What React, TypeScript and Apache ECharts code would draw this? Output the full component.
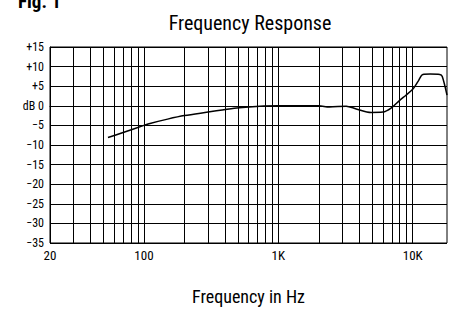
import React, { useEffect, useRef } from "react";
import * as echarts from "echarts";

const freqHz = [54, 70, 100, 111, 150, 200, 300, 470, 730, 1000, 1500, 2000, 2400, 3200, 3800, 4900, 6000, 6900, 8000, 8900, 10000, 11000, 11900, 13500, 15900, 16600, 18000];
const responseDb = [-8.1, -6.8, -5.0, -4.5, -3.4, -2.5, -1.6, -0.6, -0.1, 0, 0, 0, -0.3, -0.1, -0.8, -1.7, -1.6, -0.6, 1.4, 2.7, 4.2, 6.3, 8.0, 8.1, 8.0, 7.5, 2.7];
const gridFreqs = [30, 40, 50, 60, 70, 80, 90, 100, 200, 300, 400, 500, 600, 700, 800, 900, 1000, 2000, 3000, 4000, 5000, 6000, 7000, 8000, 9000, 10000];
const xTickLabels: Record<number, string> = { 20: "20", 100: "100", 1000: "1K", 10000: "10K" };

const FONT = "'Liberation Sans Narrow', 'Roboto Condensed', Roboto, sans-serif";

export default function App() {
  const ref = useRef<HTMLDivElement>(null);
  useEffect(() => {
    if (!ref.current) return;
    const chart = echarts.init(ref.current, undefined, { renderer: "svg" });
    chart.setOption({
      animation: false,
      backgroundColor: "#fff",
      textStyle: { fontFamily: FONT },
      title: {
        text: "Frequency Response",
        left: 245,
        textAlign: "center",
        top: 8,
        textStyle: { fontSize: 20, fontWeight: "normal", color: "#000", fontFamily: FONT },
      },
      graphic: [
        {
          type: "text",
          left: 18,
          top: -8,
          style: { text: "Fig. 1", font: "bold 19px " + FONT, fill: "#000" },
        },
      ],
      grid: { left: 50, right: 6, top: 47, bottom: 55, show: true, borderColor: "#000", borderWidth: 1 },
      xAxis: {
        type: "log",
        logBase: 10,
        min: 20,
        max: 18000,
        name: "Frequency in Hz",
        nameLocation: "middle",
        nameGap: 44,
        nameTextStyle: { fontSize: 18, color: "#000", fontFamily: FONT },
        axisLine: { show: true, lineStyle: { color: "#000", width: 1 } },
        axisTick: { show: false },
        splitLine: { show: false },
        axisLabel: {
          color: "#000",
          fontSize: 13,
          margin: 6,
          showMaxLabel: false,
          formatter: (v: number) => {
            const r = Math.round(v);
            return xTickLabels[r] ?? "";
          },
        },
      },
      yAxis: {
        type: "value",
        min: -35,
        max: 15,
        interval: 5,
        axisLine: { show: true, lineStyle: { color: "#000", width: 1 } },
        axisTick: { show: false },
        splitLine: { show: true, lineStyle: { color: "#000", width: 1 } },
        axisLabel: {
          color: "#000",
          fontSize: 12,
          margin: 6,
          formatter: (v: number) => (v > 0 ? "+" + v : v === 0 ? "dB 0" : "\u2212" + Math.abs(v)),
        },
      },
      series: [
        {
          type: "line",
          data: freqHz.map((f, i) => [f, responseDb[i]]),
          smooth: 0.3,
          showSymbol: false,
          lineStyle: { color: "#000", width: 1.5 },
          silent: true,
          markLine: {
            silent: true,
            symbol: "none",
            label: { show: false },
            lineStyle: { color: "#000", width: 1, type: "solid" },
            data: gridFreqs.map((f) => ({ xAxis: f })),
          },
        },
      ],
    });
    return () => chart.dispose();
  }, []);
  return <div ref={ref} style={{ width: 453, height: 310, position: "absolute", left: 0, top: 0 }} />;
}
